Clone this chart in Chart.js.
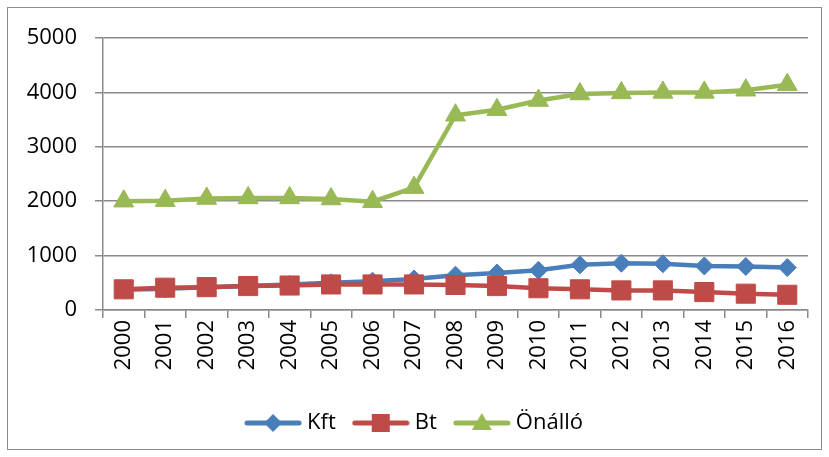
<!DOCTYPE html>
<html>
<head>
<meta charset="utf-8">
<script src="https://cdn.jsdelivr.net/npm/chart.js@4"></script>
<style>
html, body { margin: 0; padding: 0; background: #fff; }
</style>
</head>
<body>
<canvas id="myChart" width="829" height="457"></canvas>
<script>
// data
var years = ['2000','2001','2002','2003','2004','2005','2006','2007','2008','2009','2010','2011','2012','2013','2014','2015','2016'];
var kft = [370, 390, 420, 440, 470, 500, 530, 570, 640, 680, 730, 830, 860, 850, 810, 800, 780];
var bt = [380, 410, 420, 440, 450, 470, 470, 470, 460, 440, 400, 380, 360, 360, 330, 300, 280];
var onallo = [2000, 2010, 2050, 2060, 2060, 2040, 1990, 2250, 3580, 3680, 3850, 3970, 3990, 4000, 4000, 4040, 4140];
var seriesNames = ['Kft', 'Bt', 'Önálló'];

var blue = '#4A7EBB';
var red = '#BE4B48';
var green = '#98B954';
var gridColor = '#8a8a8a';
var fontFam = '"Open Sans", "Liberation Sans", sans-serif';

// little icon for the legend: line with the marker in the middle
function legendIcon(color, style) {
    var c = document.createElement('canvas');
    c.width = 58; c.height = 24;
    var ctx = c.getContext('2d');
    ctx.strokeStyle = color;
    ctx.lineWidth = 5;
    ctx.lineCap = 'round';
    ctx.beginPath();
    ctx.moveTo(3, 12);
    ctx.lineTo(55, 12);
    ctx.stroke();
    ctx.fillStyle = color;
    ctx.beginPath();
    if (style == 'rectRot') {
        ctx.moveTo(29, 3); ctx.lineTo(38, 12); ctx.lineTo(29, 21); ctx.lineTo(20, 12);
    } else if (style == 'rect') {
        ctx.rect(20, 3, 18, 18);
    } else {
        ctx.moveTo(29, 2); ctx.lineTo(39, 19); ctx.lineTo(19, 19);
    }
    ctx.closePath();
    ctx.fill();
    return c;
}

var styles = ['rectRot', 'rect', 'triangle'];
var colors = [blue, red, green];
var icons = [];
for (i = 0; i < 3; i++) {
    icons.push(legendIcon(colors[i], styles[i]));
}

var borderPlugin = {
    id: 'outerBorder',
    beforeDraw: function(chart) {
        var ctx = chart.ctx;
        ctx.save();
        ctx.fillStyle = '#fff';
        ctx.fillRect(0, 0, chart.width, chart.height);
        ctx.strokeStyle = '#8c8c8c';
        ctx.lineWidth = 1;
        ctx.strokeRect(7.5, 7.5, 814, 442);
        ctx.restore();
    }
};

const ctx = document.getElementById('myChart');
const myChart = new Chart(ctx, {
    type: 'line',
    data: {
        labels: years,
        datasets: [{
            label: seriesNames[0],
            data: kft,
            borderColor: blue,
            backgroundColor: blue,
            borderWidth: 4.5,
            pointStyle: 'rectRot',
            pointRadius: 9,
            pointBorderWidth: 1,
            order: 3
        }, {
            label: seriesNames[1],
            data: bt,
            borderColor: red,
            backgroundColor: red,
            borderWidth: 4.5,
            pointStyle: 'rect',
            pointRadius: 13.5,
            pointBorderWidth: 1,
            order: 2
        }, {
            label: seriesNames[2],
            data: onallo,
            borderColor: green,
            backgroundColor: green,
            borderWidth: 4.5,
            pointStyle: 'triangle',
            pointRadius: 11.5,
            pointBorderWidth: 1,
            order: 1
        }]
    },
    options: {
        responsive: false,
        animation: false,
        layout: {
            padding: { left: 25, right: 21, top: 38, bottom: 13 }
        },
        plugins: {
            tooltip: { enabled: false },
            legend: {
                position: 'bottom',
                labels: {
                    usePointStyle: true,
                    pointStyleWidth: 46,
                    padding: 22,
                    color: '#000',
                    font: { family: fontFam, size: 22 },
                    generateLabels: function(chart) {
                        return chart.data.datasets.map(function(ds, idx) {
                            return {
                                text: ds.label,
                                pointStyle: icons[idx],
                                fillStyle: colors[idx],
                                strokeStyle: colors[idx],
                                lineWidth: 0,
                                fontColor: '#000',
                                datasetIndex: idx,
                                hidden: false
                            };
                        });
                    }
                }
            }
        },
        scales: {
            x: {
                offset: true,
                grid: {
                    offset: true,
                    drawOnChartArea: false,
                    drawTicks: true,
                    tickLength: 8,
                    color: gridColor,
                    lineWidth: 1.5
                },
                border: { display: true, color: gridColor, width: 1.5 },
                ticks: {
                    autoSkip: false,
                    minRotation: 90,
                    maxRotation: 90,
                    padding: 2,
                    color: '#000',
                    font: { family: fontFam, size: 22 }
                },
                afterFit: function(scale) { scale.height = 80; }
            },
            y: {
                min: 0,
                max: 5000,
                ticks: {
                    stepSize: 1000,
                    padding: 18,
                    color: '#000',
                    font: { family: fontFam, size: 22 },
                    callback: function(value) { return String(value); }
                },
                grid: {
                    drawTicks: true,
                    tickLength: 8,
                    color: gridColor,
                    lineWidth: 1.5
                },
                border: { display: true, color: gridColor, width: 1.5 },
                afterFit: function(scale) { scale.width = 78; }
            }
        }
    },
    plugins: [borderPlugin]
});
</script>
</body>
</html>
